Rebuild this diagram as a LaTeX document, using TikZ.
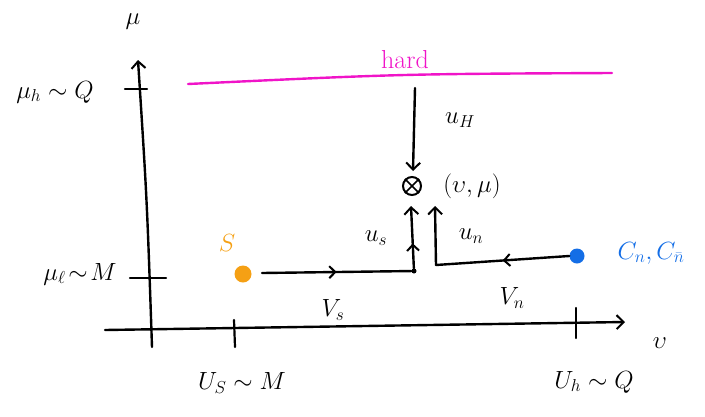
\documentclass[tikz,border=0pt]{standalone}
\usetikzlibrary{arrows.meta,decorations.markings}
\definecolor{hardc}{RGB}{240,20,200}
\definecolor{softc}{RGB}{245,160,20}
\definecolor{collc}{RGB}{20,110,230}
\begin{document}
\begin{tikzpicture}[x=1pt,y=-1pt,
  pen/.style={line width=2.4pt,line cap=round},
  barb/.style={-{Straight Barb[length=7pt,width=14pt,line width=2pt]}},
  midarrow/.style={postaction={decorate},decoration={markings,
     mark=at position #1 with {\arrow{Straight Barb[length=6pt,width=12pt,line width=2pt]}}}},
  lab/.style={font=\fontsize{26}{30}\selectfont,inner sep=1pt},
  tick/.style={line width=2.2pt,line cap=round}]
\useasboundingbox (0,0) rectangle (705,416);
% axes
\coordinate (ybot) at (152,347);
\coordinate (ytop) at (138,60);
\coordinate (xl) at (105,330);
\coordinate (xr) at (625,322);
\draw[pen,barb] (ybot) .. controls (147,200) .. (ytop);
\draw[pen,barb] (xl) -- (xr);
\node[lab] (mu) at (133,22) {$\mu$};
\node[lab] (upsilon) at (660,343) {$\upsilon$};
% ticks
\coordinate (th1) at (125,89); \coordinate (th2) at (147,89);
\draw[tick] (th1) -- (th2);
\coordinate (tl1) at (130,278); \coordinate (tl2) at (166,278);
\draw[tick] (tl1) -- (tl2);
\coordinate (ts1) at (234,320); \coordinate (ts2) at (235,347);
\draw[tick] (ts1) -- (ts2);
\coordinate (tq1) at (576,308); \coordinate (tq2) at (576,338);
\draw[tick] (tq1) -- (tq2);
\node[lab] (muh) at (55,92) {$\mu_h \sim Q$};
\node[lab] (mul) at (80,274) {$\mu_\ell\!\sim\! M$};
\node[lab] (us) at (242,383) {$U_S \sim M$};
\node[lab] (uh) at (594,382) {$U_h \sim Q$};
% hard line
\coordinate (hl) at (188,84);
\coordinate (hr) at (612,73);
\draw[pen,hardc] (hl) .. controls (400,74) .. (hr);
\node[lab,text=hardc] (hard) at (405,60) {hard};
% hard evolution
\node[circle,draw,line width=2pt,inner sep=0pt,minimum size=18pt] (pt) at (412,186) {};
\draw[line width=1.6pt] (pt.north west) -- (pt.south east) (pt.north east) -- (pt.south west);
\coordinate (hs) at (415,88);
\coordinate (he) at (413,171);
\draw[pen,barb] (hs) -- (he);
\node[lab] (uH) at (460,120) {$u_H$};
\node[lab] (pl) at (472,186) {$(\upsilon,\mu)$};
% soft
\node[circle,fill=softc,minimum width=17pt,minimum height=14pt,inner sep=0pt] (S) at (243,274) {};
\node[lab,text=softc] (Slab) at (227,243) {$S$};
\node[circle,fill=black,minimum size=5pt,inner sep=0pt] (J) at (414,271) {};
\coordinate (Ss) at (262,273);
\draw[pen,midarrow=0.5] (Ss) -- (J);
\node[lab] (Vs) at (333,310) {$V_s$};
\coordinate (se) at (411,206);
\draw[pen,barb,midarrow=0.4] (J) -- (se);
\node[lab] (uS) at (376,238) {$u_s$};
% collinear
\node[circle,fill=collc,minimum size=15pt,inner sep=0pt] (C) at (577,256) {};
\node[lab,text=collc] (Clab) at (651,253) {$C_n, C_{\bar n}$};
\coordinate (K) at (436,265);
\draw[pen,midarrow=0.5] (C.west) -- (K);
\coordinate (ne) at (435,206);
\draw[pen,barb] (K) -- (ne);
\node[lab] (Vn) at (512,298) {$V_n$};
\node[lab] (uN) at (471,236) {$u_n$};
\end{tikzpicture}
\end{document}
